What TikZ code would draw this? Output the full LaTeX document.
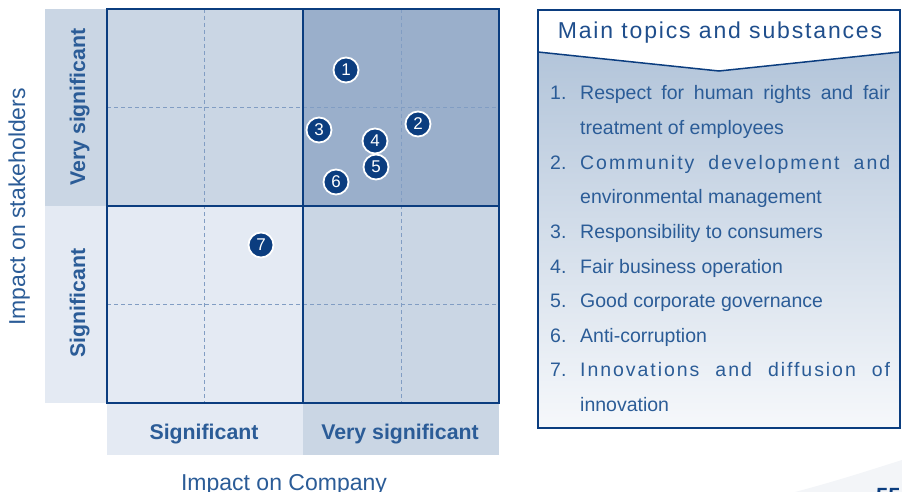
\documentclass[tikz,border=0pt]{standalone}
\usepackage{fontspec}
\setmainfont{Liberation Sans}
\newfontfamily\headfont[LetterSpace=8]{Liberation Sans}
\usetikzlibrary{positioning}

\definecolor{navy}{HTML}{0B3D7F}
\definecolor{ink}{HTML}{2B5C97}
\definecolor{headink}{HTML}{1F4E8C}
\definecolor{paleblue}{HTML}{E4EAF3}
\definecolor{midblue}{HTML}{CAD6E4}
\definecolor{deepblue}{HTML}{9AAFCB}
\definecolor{dashblue}{HTML}{819DC3}
\definecolor{boxtop}{HTML}{B3C5DA}
\definecolor{boxbottom}{HTML}{F6F8FB}
\definecolor{swoosh}{HTML}{F3F5F8}

\tikzset{
  axistitle/.style={font=\fontsize{23}{27}\selectfont,text=ink,inner sep=0pt,anchor=base},
  levellabel/.style={font=\fontsize{21.3}{25}\selectfont\bfseries,text=ink,inner sep=0pt,anchor=base},
  topicdot/.style={circle,fill=navy,draw=white,line width=1.8pt,minimum size=25pt,inner sep=0pt,
                   text=white,font=\fontsize{17}{17}\selectfont},
  listtext/.style={font=\fontsize{19.5}{24}\selectfont,text=ink,inner sep=0pt,anchor=base west},
  gridline/.style={draw=navy,line width=2pt},
  dashline/.style={draw=dashblue,dash pattern=on 4pt off 3pt,line width=0.8pt},
}

\begin{document}
\begin{tikzpicture}[x=1pt,y=-1pt]
  \useasboundingbox (0,0) rectangle (902,492);
  % level strips
  \fill[midblue] (45,9) rectangle (107,206);
  \fill[paleblue] (45,206) rectangle (107,403);
  \fill[paleblue] (107,403) rectangle (303,455);
  \fill[midblue] (303,403) rectangle (499,455);
  % quadrants
  \fill[midblue] (107,9) rectangle (303,206);
  \fill[deepblue] (303,9) rectangle (499,206);
  \fill[paleblue] (107,206) rectangle (303,403);
  \fill[midblue] (303,206) rectangle (499,403);
  \draw[dashline] (204,9) -- (204,403) (401,9) -- (401,403)
                  (107,107) -- (499,107) (107,304) -- (499,304);
  \draw[navy,line width=1.5pt] (107,9) rectangle (499,403);
  \draw[gridline] (303,9) -- (303,403) (107,206) -- (499,206);

  \node[levellabel,rotate=90] (vsigleft) at (85,107) {Very significant};
  \node[levellabel,rotate=90] (sigleft) at (85,303) {Significant};
  \node[levellabel] (sigbottom) at (204,439) {Significant};
  \node[levellabel] (vsigbottom) at (400,439) {Very significant};
  \node[axistitle,rotate=90] (stake) at (25,207) {Impact on stakeholders};
  \node[axistitle] (company) at (284,490) {Impact on Company};

  \foreach \n/\x/\y in {1/346/70,2/418/124,3/319/130,4/375/141,5/376/167,6/336/182,7/261/245}
    \node[topicdot] (dot\n) at (\x,\y) {\n};

  % topics box
  \shade[top color=boxtop,bottom color=boxbottom] (538,52) -- (719,71) -- (900,52)
      -- (900,428) -- (538,428) -- cycle;
  \draw[navy,line width=1.5pt] (538,52) -- (719,71) -- (900,52);
  \draw[navy,line width=2.5pt] (538,10) rectangle (900,428);
  \node[font=\headfont\fontsize{23}{27}\selectfont,text=headink,inner sep=0pt,anchor=base]
    (head) at (720,39) {Main topics and substances};

  \foreach \n/\l in {1/0,2/2,3/4,4/5,5/6,6/7,7/8}
    \node[listtext] (num\n) at (550,100+34.6*\l) {\n.};
  \foreach \l/\t in {0/{\makebox[310pt][s]{Respect for human rights and fair}},
                     1/{treatment of employees},
                     2/{\addfontfeature{LetterSpace=10}\makebox[310pt][s]{Community development and}},
                     3/{environmental management},
                     4/{Responsibility to consumers},
                     5/{Fair business operation},
                     6/{Good corporate governance},
                     7/{Anti-corruption},
                     8/{\addfontfeature{LetterSpace=10}\makebox[310pt][s]{Innovations and diffusion of}},
                     9/{innovation}}
    \node[listtext] (line\l) at (580,100+34.6*\l) {\t};

  % page corner
  \fill[swoosh] (795,492) .. controls (840,480) and (870,470) .. (902,460) -- (902,492) -- cycle;
  \node[font=\fontsize{22}{26}\selectfont\bfseries,text=navy,inner sep=0pt,anchor=base west]
    (page) at (876,503) {55};
\end{tikzpicture}
\end{document}
